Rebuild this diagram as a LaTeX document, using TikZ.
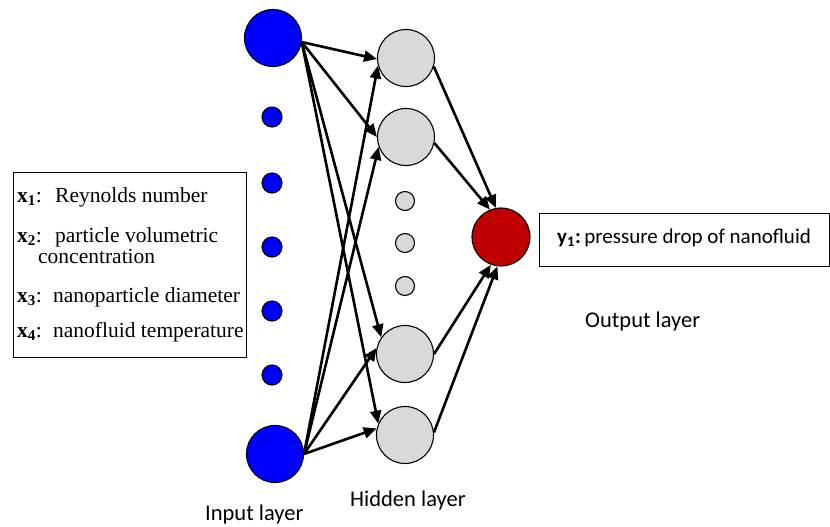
\documentclass[tikz,border=0pt]{standalone}
\usepackage{fontspec}
\setmainfont{Liberation Serif}
\newfontfamily\calibrifont{Carlito}
\usetikzlibrary{arrows.meta}

\definecolor{inblue}{RGB}{0,0,255}
\definecolor{hidgray}{RGB}{217,217,217}
\definecolor{outred}{RGB}{192,0,0}

\tikzset{
  neuron/.style={circle, draw=black, line width=1.1pt, inner sep=0pt},
  inbig/.style={neuron, fill=inblue, minimum size=57pt},
  insmall/.style={neuron, fill=inblue, minimum size=20pt},
  hidbig/.style={neuron, fill=hidgray, minimum size=57pt},
  hidsmall/.style={neuron, fill=hidgray, minimum size=19pt},
  outbig/.style={neuron, fill=outred, minimum size=58pt},
  conn/.style={line width=2.6pt, -{Triangle[length=13pt,width=11pt]}},
  infobox/.style={draw=black, line width=1.1pt},
  seriftext/.style={anchor=base west, inner sep=0pt, font=\fontsize{21.5}{25}\selectfont},
  layerlabel/.style={anchor=base west, inner sep=0pt, font=\calibrifont\fontsize{22.5}{26}\selectfont},
}

\begin{document}
\begin{tikzpicture}[x=1pt, y=-1pt]
  \useasboundingbox (0,0) rectangle (830,527);

  % input layer
  \node[inbig]   (i1) at (273,38)  {};
  \node[insmall] (d1) at (272,117) {};
  \node[insmall] (d2) at (272,183) {};
  \node[insmall] (d3) at (272,247) {};
  \node[insmall] (d4) at (272,311) {};
  \node[insmall] (d5) at (272,375) {};
  \node[inbig]   (i2) at (275,454) {};

  % hidden layer
  \node[hidbig]   (h1) at (406,58)  {};
  \node[hidbig]   (h2) at (406,137) {};
  \node[hidsmall] (g1) at (405,201) {};
  \node[hidsmall] (g2) at (405,243) {};
  \node[hidsmall] (g3) at (405,286) {};
  \node[hidbig]   (h3) at (405,354) {};
  \node[hidbig]   (h4) at (405,435) {};

  % output layer
  \node[outbig] (o) at (501,237) {};

  % connections input -> hidden
  \draw[conn] (i1.-8) -- (h1.182);
  \draw[conn] (i1.-8) -- (h2.180);
  \draw[conn] (i1.-8) -- (h3.145);
  \draw[conn] (i1.-8) -- (h4.157);
  \draw[conn] (i2.east) -- (h1.195);
  \draw[conn] (i2.east) -- (h2.200);
  \draw[conn] (i2.east) -- (h3.168);
  \draw[conn] (i2.east) -- (h4.167);

  % connections hidden -> output
  \draw[conn] (h1.-17) -- (o.100);
  \draw[conn] (h2.-12) -- (o.112);
  \draw[conn] (h3.0)   -- (o.250);
  \draw[conn] (h4.5)   -- (o.263);

  % input variables
  \node[infobox, minimum width=233pt, minimum height=185pt, anchor=north west] (inbox) at (13,172) {};
  \node[seriftext] (x1l) at (17,202) {\textbf{x\textsubscript{1}}:};
  \node[seriftext] (x1t) at (55,202) {Reynolds number};
  \node[seriftext] (x2l) at (17,242) {\textbf{x\textsubscript{2}}:};
  \node[seriftext] (x2t) at (55,242) {particle volumetric};
  \node[seriftext] (x2u) at (38,263) {concentration};
  \node[seriftext] (x3l) at (17,302) {\textbf{x\textsubscript{3}}:};
  \node[seriftext] (x3t) at (53,302) {nanoparticle diameter};
  \node[seriftext] (x4l) at (17,337) {\textbf{x\textsubscript{4}}:};
  \node[seriftext] (x4t) at (53,337) {nanofluid temperature};

  % output variable
  \node[infobox, minimum width=290pt, minimum height=53pt, anchor=north west] (outbox) at (539,213) {};
  \node[anchor=base west, inner sep=0pt, font=\calibrifont\fontsize{21}{25}\selectfont] (y1) at (557,243)
    {\textbf{y\textsubscript{1}:}\,pressure drop of nanofluid};

  % layer labels
  \node[layerlabel] (lin)  at (205,520) {Input layer};
  \node[layerlabel] (lhid) at (350,506) {Hidden layer};
  \node[layerlabel] (lout) at (585,327) {Output layer};
\end{tikzpicture}
\end{document}
